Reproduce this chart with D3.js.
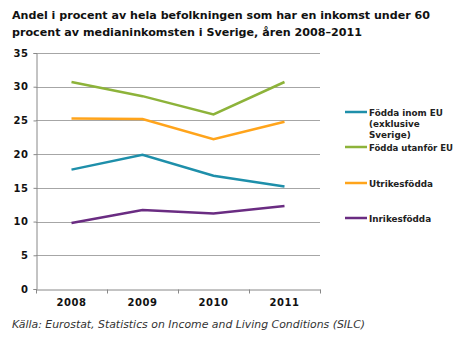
<!DOCTYPE html>
<html>
<head>
<meta charset="utf-8">
<script src="https://cdn.jsdelivr.net/npm/d3@7"></script>
<style>
  body { margin: 0; background: #fff; }
  svg text { font-family: Verdana, "DejaVu Sans", sans-serif; }
</style>
</head>
<body>
<div id="chart"></div>
<script>
// år och andel (%) per grupp
var years = ["2008", "2009", "2010", "2011"];
var inomEU = [17.7, 19.9, 16.8, 15.2];
var utanforEU = [30.7, 28.6, 25.9, 30.7];
var utrikes = [25.3, 25.2, 22.2, 24.8];
var inrikes = [9.8, 11.7, 11.2, 12.3];
var yTicks = [0, 5, 10, 15, 20, 25, 30, 35];

var series = [
    { name: ["Födda inom EU", "(exklusive", "Sverige)"], values: inomEU, color: "#1E8FAA", ly: 112 },
    { name: ["Födda utanför EU"], values: utanforEU, color: "#8DB33A", ly: 147 },
    { name: ["Utrikesfödda"], values: utrikes, color: "#FFA41B", ly: 183 },
    { name: ["Inrikesfödda"], values: inrikes, color: "#6A2C82", ly: 218 }
];

var width = 455, height = 344;
var svg = d3.select("#chart").append("svg")
    .attr("width", width)
    .attr("height", height);

// trycker ihop en text om den blir bredare än max
function fit(sel, max) {
    sel.each(function () {
        if (this.getComputedTextLength() > max) {
            d3.select(this).attr("textLength", max).attr("lengthAdjust", "spacingAndGlyphs");
        }
    });
}

// rubrik
var title = svg.append("text")
    .attr("y", 19)
    .style("font-size", "11.3px")
    .style("font-weight", "bold")
    .attr("fill", "#111");
title.append("tspan").attr("x", 12).attr("dy", 0)
    .text("Andel i procent av hela befolkningen som har en inkomst under 60")
    .call(fit, 418);
title.append("tspan").attr("x", 12).attr("dy", 17)
    .text("procent av medianinkomsten i Sverige, åren 2008–2011")
    .call(fit, 350);

var x = d3.scaleBand().domain(years).range([36, 320]);
var y = d3.scaleLinear().domain([0, 35]).range([289, 53]);

// stödlinjer
svg.append("g")
    .selectAll("line")
    .data(yTicks.filter(d => d > 0))
    .join("line")
    .attr("x1", 36).attr("x2", 320)
    .attr("y1", d => Math.round(y(d)) + 0.5)
    .attr("y2", d => Math.round(y(d)) + 0.5)
    .attr("stroke", "#A6A6A6")
    .attr("stroke-width", 1);

// y-axel
var yAxis = svg.append("g")
    .attr("transform", "translate(36.5,0)")
    .call(d3.axisLeft(y).tickValues(yTicks).tickSize(3).tickPadding(5));

// x-axel med streck mellan kategorierna
var xAxis = svg.append("g")
    .attr("transform", "translate(0," + (Math.round(y(0)) + 0.5) + ")")
    .call(d3.axisBottom(x).tickSize(0).tickPadding(9));
xAxis.selectAll(".sep")
    .data(x.domain().map(d => x(d)).concat([x.range()[1]]))
    .join("line")
    .attr("class", "sep")
    .attr("x1", d => Math.round(d) + 0.5)
    .attr("x2", d => Math.round(d) + 0.5)
    .attr("y1", 0).attr("y2", 4)
    .attr("stroke", "#888");

[yAxis, xAxis].forEach(function (a) {
    a.select(".domain").attr("stroke", "#888");
    a.selectAll(".tick line").attr("stroke", "#888");
    a.selectAll("text")
        .style("font-size", "10px")
        .style("font-weight", "bold")
        .style("letter-spacing", "0.5px")
        .attr("fill", "#111");
});

// linjer
var line = d3.line()
    .x((d, i) => x(years[i]) + x.bandwidth() / 2)
    .y(d => y(d));

svg.append("g")
    .selectAll("path")
    .data(series)
    .join("path")
    .attr("d", d => line(d.values))
    .attr("fill", "none")
    .attr("stroke", d => d.color)
    .attr("stroke-width", 2.5);

// förklaring
var legend = svg.append("g")
    .selectAll("g")
    .data(series)
    .join("g")
    .attr("transform", d => "translate(345," + d.ly + ")");
legend.append("line")
    .attr("x1", 0).attr("x2", 22)
    .attr("stroke", d => d.color)
    .attr("stroke-width", 2.5);
legend.append("text")
    .attr("y", 4)
    .style("font-size", "8.8px")
    .style("font-weight", "bold")
    .attr("fill", "#222")
    .selectAll("tspan")
    .data(d => d.name)
    .join("tspan")
    .attr("x", 24)
    .attr("dy", (d, i) => i === 0 ? 0 : 11)
    .text(d => d)
    .call(fit, 84);

// källa
svg.append("text")
    .attr("x", 12)
    .attr("y", 328)
    .style("font-size", "11px")
    .style("font-style", "italic")
    .attr("fill", "#333")
    .text("Källa: Eurostat, Statistics on Income and Living Conditions (SILC)")
    .call(fit, 353);
</script>
</body>
</html>
